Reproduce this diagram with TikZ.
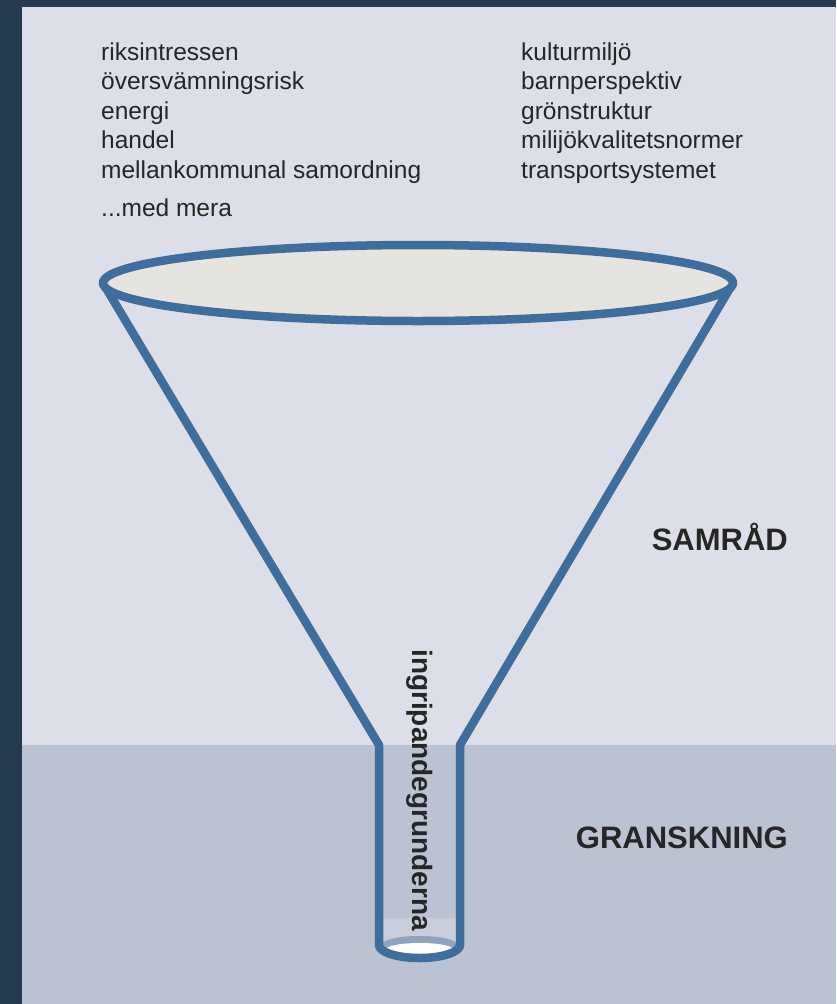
\documentclass[tikz,border=0pt]{standalone}
\usepackage{fontspec}
\setmainfont{Liberation Sans}
\usetikzlibrary{
calc,
positioning
}
\definecolor{frame}{HTML}{263A4D}
\definecolor{upperbg}{HTML}{DCDFE7}
\definecolor{lowerbg}{HTML}{BBC2D2}
\definecolor{funnel}{HTML}{3F6E9C}
\definecolor{rimfill}{HTML}{E6E4DF}
\definecolor{rimback}{HTML}{91A4BE}
\definecolor{tubelight}{HTML}{C8CDD9}
\definecolor{txt}{HTML}{262626}

\begin{document}
\begin{tikzpicture}[x=1pt, y=-1pt,
		item/.style={anchor=base west, inner sep=0pt, text=txt, font=\fontsize{24.5}{29.5}\selectfont},
		phase/.style={anchor=base east, inner sep=0pt, text=txt, font=\fontsize{31}{36}\selectfont\bfseries},
		wall/.style={draw=funnel, line width=8.5pt, line join=round}]
		\useasboundingbox (0,0) rectangle (836,1004);
		\fill[frame] (0,0) rectangle (836,1004);
		\fill[upperbg] (22,7) rectangle (836,745);
		\fill[lowerbg] (22,745) rectangle (836,1004);
		
		\coordinate (rimL) at (103,283);
		\coordinate (rimR) at (733,283);
		\coordinate (rimC) at (418,283);
		\coordinate (neckL) at (379,745);
		\coordinate (neckR) at (460,745);
		\coordinate (footL) at (379,945);
		\coordinate (footR) at (460,945);
		
		% lower part of the tube and its opening
		\fill[tubelight] (379,918) rectangle (footR);
		\fill[rimback] (419.5,944) ellipse [x radius=37, y radius=8];
		\fill[white] (419.5,949) ellipse [x radius=33, y radius=6];
		
		\draw[wall] (rimL) -- (neckL) -- (footL) arc[start angle=180, end angle=0, x radius=40.5, y radius=13] -- (neckR) -- (rimR);
		\draw[wall, fill=rimfill] (rimC) ellipse [x radius=315, y radius=38];
		
		\node[item] (riks) at (101,60) {riksintressen};
		\node[item] (oversv) at ([yshift=-29.5pt]riks.base west) {översvämningsrisk};
		\node[item] (energi) at ([yshift=-29.5pt]oversv.base west) {energi};
		\node[item] (handel) at ([yshift=-29.5pt]energi.base west) {handel};
		\node[item] (mellan) at ([yshift=-29.5pt]handel.base west) {mellankommunal samordning};
		\node[item] (medmera) at ([yshift=-38pt]mellan.base west) {...med mera};
		
		\node[item] (kultur) at (521,60) {kulturmiljö};
		\node[item] (barn) at ([yshift=-29.5pt]kultur.base west) {barnperspektiv};
		\node[item] (gron) at ([yshift=-29.5pt]barn.base west) {grönstruktur};
		\node[item] (miljo) at ([yshift=-29.5pt]gron.base west) {milijökvalitetsnormer};
		\node[item] (transp) at ([yshift=-29.5pt]miljo.base west) {transportsystemet};
		
		\node[phase] (samrad) at (788,550) {SAMRÅD};
		\node[phase] (gransk) at (788,848) {GRANSKNING};
		
		\node[rotate=-90, inner sep=0pt, text=txt, font=\fontsize{28}{33}\selectfont\bfseries] (grunder) at (419.5,790) {ingripandegrunderna};
	\end{tikzpicture}
\end{document}
